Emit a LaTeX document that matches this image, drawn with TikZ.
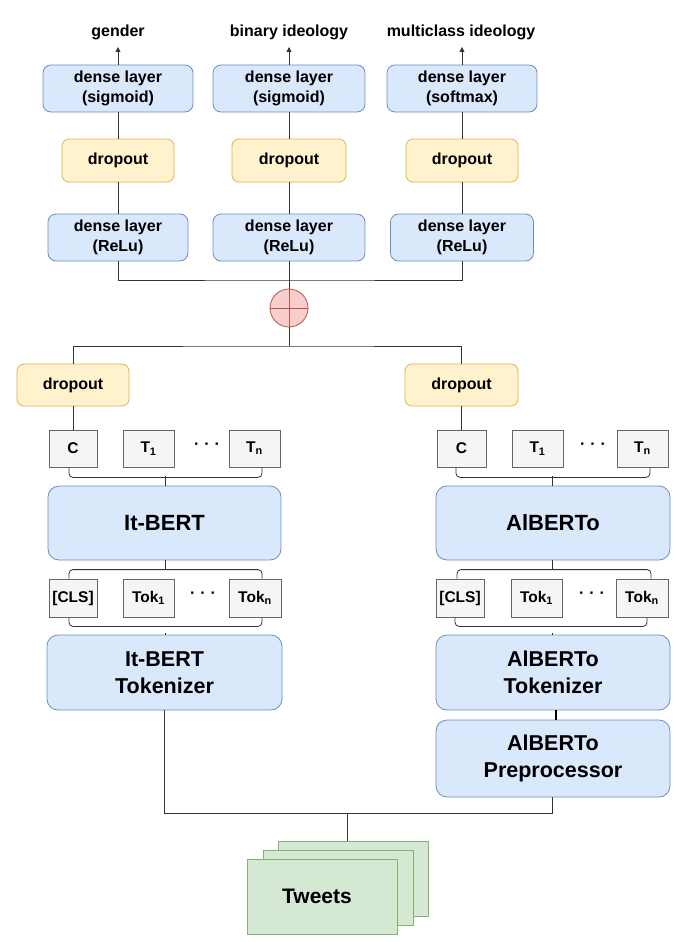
\documentclass[tikz,border=0pt]{standalone}
\usepackage{fontspec}
\setmainfont{Liberation Sans}
\usetikzlibrary{calc,arrows.meta}
\definecolor{bfill}{HTML}{DAE8FC}
\definecolor{bdraw}{HTML}{6C8EBF}
\definecolor{yfill}{HTML}{FFF2CC}
\definecolor{ydraw}{HTML}{D6B656}
\definecolor{gfill}{HTML}{F5F5F5}
\definecolor{gdraw}{HTML}{666666}
\definecolor{grfill}{HTML}{D5E8D4}
\definecolor{grdraw}{HTML}{82B366}
\definecolor{rfill}{HTML}{F8CECC}
\definecolor{rdraw}{HTML}{B85450}
\definecolor{wire}{HTML}{333333}
\newcommand{\tridots}{·\hspace{5pt}·\hspace{5pt}·}
\begin{document}
\begin{tikzpicture}[x=1pt,y=-1pt,
  base/.style={inner sep=0pt, line width=0.8pt, align=center, font=\bfseries\fontsize{16}{20.5}\selectfont},
  bluebox/.style={base, fill=bfill, draw=bdraw, rounded corners=8pt},
  bigblue/.style={base, fill=bfill, draw=bdraw, rounded corners=11pt, font=\bfseries\fontsize{21.5}{27}\selectfont},
  yelbox/.style={base, fill=yfill, draw=ydraw, rounded corners=7pt},
  tokbox/.style={base, fill=gfill, draw=gdraw, minimum width=50pt, minimum height=37pt, font=\bfseries\fontsize{15.5}{18}\selectfont},
  tweetbox/.style={base, fill=grfill, draw=grdraw, minimum width=150pt, minimum height=75pt, font=\bfseries\fontsize{21}{25}\selectfont},
  lbl/.style={inner sep=0pt, font=\bfseries\fontsize{16}{20}\selectfont},
  dotsnode/.style={inner sep=0pt, font=\bfseries\fontsize{16}{20}\selectfont},
  conn/.style={draw=wire, line width=0.8pt},
  brc/.style={draw=wire, line width=0.8pt, rounded corners=4pt}
]
\useasboundingbox (0,0) rectangle (680,942);

% output labels
\node[lbl] (lg) at (118,32) {gender};
\node[lbl] (lb) at (289,32) {binary ideology};
\node[lbl] (lm) at (461,32) {multiclass ideology};
\coordinate (ag) at (118,47);
\coordinate (ab) at (289,47);
\coordinate (am) at (462,47);

% top dense layers
\node[bluebox, minimum width=150pt, minimum height=47pt] (s1) at (118,88.5) {dense layer\\(sigmoid)};
\node[bluebox, minimum width=152pt, minimum height=47pt] (s2) at (289,88.5) {dense layer\\(sigmoid)};
\node[bluebox, minimum width=150pt, minimum height=47pt] (s3) at (462,88.5) {dense layer\\(softmax)};

\node[yelbox, minimum width=112pt, minimum height=43pt] (o1) at (118,160.5) {dropout};
\node[yelbox, minimum width=114pt, minimum height=43pt] (o2) at (289,160.5) {dropout};
\node[yelbox, minimum width=112pt, minimum height=43pt] (o3) at (462,160.5) {dropout};

\node[bluebox, minimum width=140pt, minimum height=47pt] (r1) at (118,237.5) {dense layer\\(ReLu)};
\node[bluebox, minimum width=152pt, minimum height=47pt] (r2) at (289,237.5) {dense layer\\(ReLu)};
\node[bluebox, minimum width=143pt, minimum height=47pt] (r3) at (462,237.5) {dense layer\\(ReLu)};

\foreach \i/\a in {1/ag,2/ab,3/am}{
  \draw[conn, -{Triangle[width=5pt,length=5pt]}] (s\i.north) -- (\a);
  \draw[conn] (s\i) -- (o\i);
  \draw[conn] (o\i) -- (r\i);
}

% concatenation
\node[circle, fill=rfill, draw=rdraw, line width=0.8pt, minimum size=38pt, inner sep=0pt] (cat) at (289,308) {};
\draw[draw=rdraw, line width=0.8pt] (cat.west) -- (cat.east) (cat.north) -- (cat.south);
\coordinate (jt) at (289,280);
\draw[conn] (r1.south) |- (jt) -| (r3.south);
\draw[conn] (r2.south) -- (cat.north);

% lower dropouts
\node[yelbox, minimum width=112pt, minimum height=42pt] (ld) at (73,385) {dropout};
\node[yelbox, minimum width=113pt, minimum height=42pt] (rd) at (461.5,385) {dropout};
\coordinate (js) at (289,346);
\draw[conn] (cat.south) -- (js);
\draw[conn] (ld.north) |- (js) -| (rd.north);

% output tokens
\node[tokbox, minimum width=48pt] (lc) at (73,448.5) {C};
\node[tokbox, minimum width=51pt] (lt1) at (148.5,448.5) {T\textsubscript{1}};
\node[tokbox, minimum width=51pt] (ltn) at (254.5,448.5) {T\textsubscript{n}};
\node[dotsnode] (ldots) at (207,446) {\tridots};
\node[tokbox, minimum width=49pt] (rc) at (461.5,448.5) {C};
\node[tokbox, minimum width=51pt] (rt1) at (537.5,448.5) {T\textsubscript{1}};
\node[tokbox, minimum width=51pt] (rtn) at (642.5,448.5) {T\textsubscript{n}};
\node[dotsnode] (rdots) at (593,446) {\tridots};
\draw[conn] (ld) -- (lc);
\draw[conn] (rd) -- (rc);

% models
\node[bigblue, minimum width=233pt, minimum height=74pt, font=\bfseries\fontsize{22}{27}\selectfont] (itb) at (164.5,523) {It-BERT};
\node[bigblue, minimum width=234pt, minimum height=74pt, font=\bfseries\fontsize{22}{27}\selectfont] (alb) at (553,523) {AlBERTo};

% input tokens
\node[tokbox, minimum width=48pt, minimum height=38pt] (lcls) at (73,598) {[CLS]};
\node[tokbox, minimum width=51pt, minimum height=38pt] (ltk1) at (148.5,598) {Tok\textsubscript{1}};
\node[tokbox, minimum width=52pt, minimum height=38pt] (ltkn) at (255,598) {Tok\textsubscript{n}};
\node[dotsnode] (ldots2) at (203,595) {\tridots};
\node[tokbox, minimum width=48pt, minimum height=38pt] (rcls) at (460,598) {[CLS]};
\node[tokbox, minimum width=51pt, minimum height=38pt] (rtk1) at (536.5,598) {Tok\textsubscript{1}};
\node[tokbox, minimum width=52pt, minimum height=38pt] (rtkn) at (642,598) {Tok\textsubscript{n}};
\node[dotsnode] (rdots2) at (592,595) {\tridots};

% braces
\draw[brc] ($(lc.south)+(-4,0)$) -- ++(0,10) -| ($(ltn.south)+(7.5,0)$);
\draw[conn] ($(itb.north)+(1,-10)$) -- ($(itb.north)+(1,0)$);
\draw[brc] ($(rc.south)+(-5.5,0)$) -- ++(0,10) -| ($(rtn.south)+(7.5,0)$);
\draw[conn] ($(alb.north)+(-1,-10)$) -- ($(alb.north)+(-1,0)$);

\draw[brc] ($(lcls.north)+(-4,0)$) -- ++(0,-9) -| ($(ltkn.north)+(7,0)$);
\draw[conn] ($(itb.south)+(1,0)$) -- ($(itb.south)+(1,10)$);
\draw[brc] ($(rcls.north)+(-3,0)$) -- ++(0,-9) -| ($(rtkn.north)+(9,0)$);
\draw[conn] ($(alb.south)+(-1,0)$) -- ($(alb.south)+(-1,10)$);

\draw[brc] ($(lcls.south)+(-4,0)$) -- ++(0,9) -| ($(ltkn.south)+(7,0)$);
\draw[brc] ($(rcls.south)+(-5,0)$) -- ++(0,9) -| ($(rtkn.south)+(5,0)$);

% tokenizers
\node[bigblue, minimum width=235pt, minimum height=75pt] (ltok) at (164.5,672.5) {It-BERT\\Tokenizer};
\node[bigblue, minimum width=234pt, minimum height=75pt] (rtok) at (553,672.5) {AlBERTo\\Tokenizer};
\draw[conn] ($(ltok.north)+(1,-2)$) -- ($(ltok.north)+(1,0)$);
\draw[conn] ($(rtok.north)+(-1,-2)$) -- ($(rtok.north)+(-1,0)$);
\node[bigblue, minimum width=234pt, minimum height=77pt] (rpre) at (553,758.5) {AlBERTo\\Preprocessor};
\draw[draw=black, line width=2.2pt] ($(rtok.south)+(3,0)$) -- ($(rpre.north)+(3,0)$);

% tweets
\node[tweetbox] (tw3) at (353,878.5) {};
\node[tweetbox] (tw2) at (338,887.5) {};
\node[tweetbox] (tw1) at (322,896.5) {\hspace*{-10pt}Tweets};
\coordinate (jb) at (347,813);
\draw[conn] ($(ltok.south)+(-0.5,0)$) |- (jb);
\draw[conn] ($(rpre.south)+(-1,0)$) |- (jb);
\draw[conn] (jb) -- (jb |- tw3.north);
\end{tikzpicture}
\end{document}
